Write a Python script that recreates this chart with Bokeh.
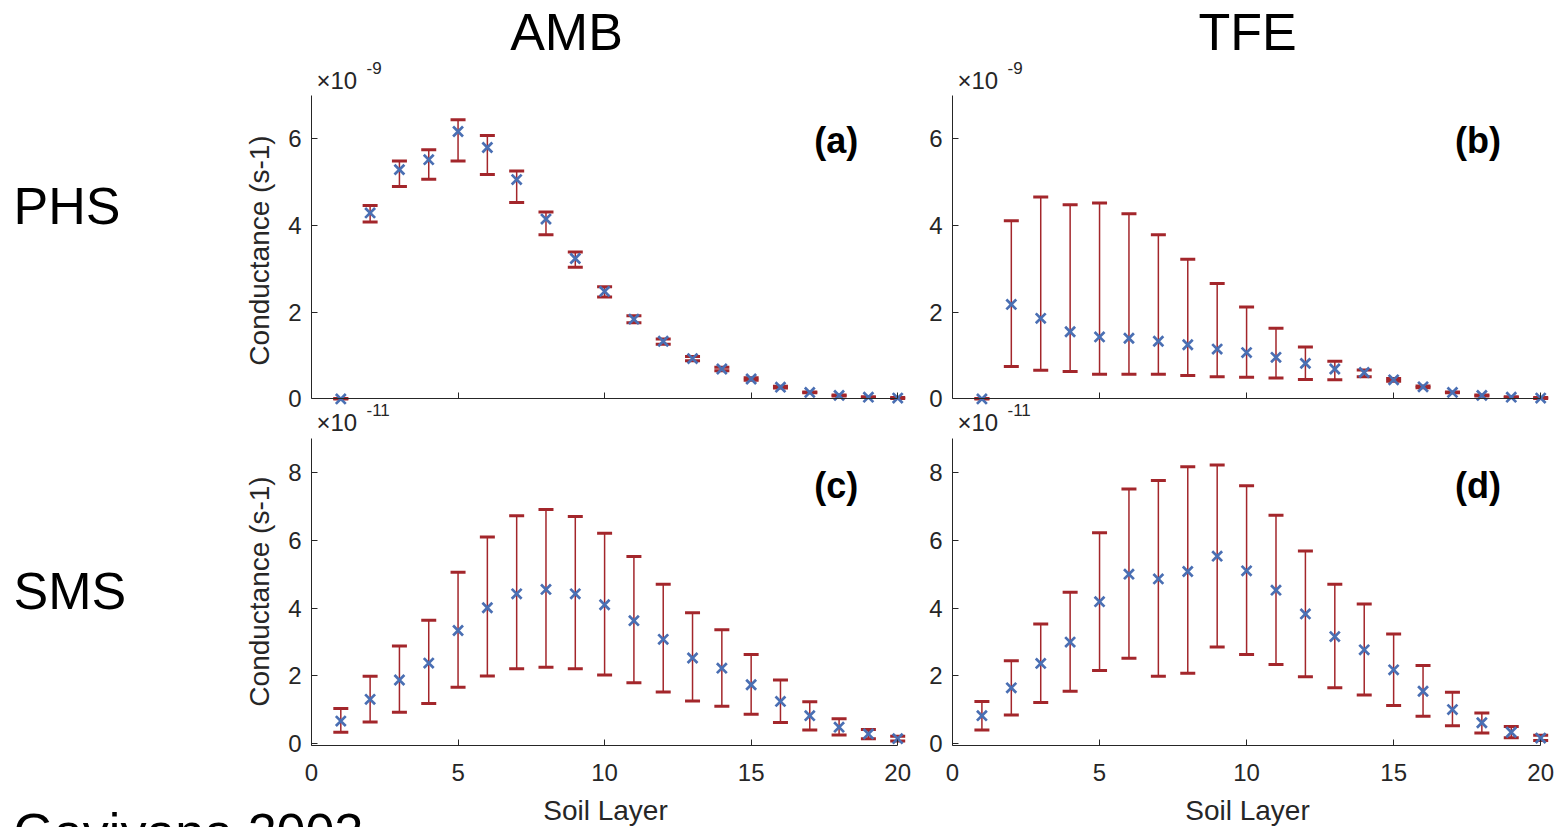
import math
from bokeh.plotting import figure
from bokeh.models import ColumnDataSource, Whisker, TeeHead, Label, Range1d, FixedTicker
from bokeh.layouts import row, column
from bokeh.embed import file_html
from bokeh.resources import INLINE

# ---------------- data (values in axis units: x1e-9 for PHS, x1e-11 for SMS) -------------
layers = list(range(1, 21))
x_ticks = [0, 5, 10, 15, 20]
y_ticks_phs = [0, 2, 4, 6]
y_ticks_sms = [0, 2, 4, 6, 8]

amb_phs_mean = [0.00, 4.29, 5.29, 5.52, 6.17, 5.80, 5.06, 4.15, 3.24, 2.48,
                1.84, 1.33, 0.93, 0.69, 0.46, 0.27, 0.15, 0.08, 0.04, 0.02]
amb_phs_upper = [0.01, 4.46, 5.49, 5.75, 6.44, 6.08, 5.26, 4.31, 3.39, 2.59,
                 1.92, 1.38, 0.98, 0.73, 0.49, 0.29, 0.16, 0.09, 0.05, 0.03]
amb_phs_lower = [0.00, 4.08, 4.90, 5.07, 5.49, 5.18, 4.53, 3.79, 3.04, 2.35,
                 1.76, 1.26, 0.88, 0.65, 0.43, 0.25, 0.14, 0.07, 0.03, 0.01]

tfe_phs_mean = [0.00, 2.18, 1.86, 1.55, 1.43, 1.40, 1.33, 1.25, 1.15, 1.07,
                0.96, 0.82, 0.69, 0.61, 0.44, 0.28, 0.15, 0.08, 0.04, 0.02]
tfe_phs_upper = [0.01, 4.11, 4.66, 4.48, 4.52, 4.27, 3.79, 3.22, 2.66, 2.12,
                 1.63, 1.20, 0.87, 0.67, 0.47, 0.30, 0.16, 0.09, 0.05, 0.03]
tfe_phs_lower = [0.00, 0.75, 0.66, 0.63, 0.57, 0.57, 0.57, 0.54, 0.51, 0.50,
                 0.48, 0.45, 0.44, 0.51, 0.41, 0.26, 0.14, 0.07, 0.03, 0.01]

amb_sms_mean = [0.67, 1.31, 1.88, 2.38, 3.34, 4.01, 4.42, 4.55, 4.42, 4.10,
                3.63, 3.08, 2.53, 2.23, 1.74, 1.25, 0.83, 0.49, 0.29, 0.15]
amb_sms_upper = [1.04, 1.99, 2.88, 3.64, 5.06, 6.10, 6.72, 6.91, 6.70, 6.21,
                 5.52, 4.70, 3.86, 3.36, 2.63, 1.88, 1.24, 0.74, 0.42, 0.22]
amb_sms_lower = [0.34, 0.64, 0.93, 1.19, 1.67, 2.00, 2.21, 2.26, 2.21, 2.03,
                 1.80, 1.53, 1.26, 1.11, 0.87, 0.63, 0.41, 0.26, 0.15, 0.08]

tfe_sms_mean = [0.83, 1.65, 2.37, 3.00, 4.19, 5.00, 4.86, 5.08, 5.53, 5.10,
                4.53, 3.83, 3.16, 2.77, 2.18, 1.55, 1.01, 0.62, 0.34, 0.17]
tfe_sms_upper = [1.25, 2.45, 3.53, 4.47, 6.22, 7.51, 7.76, 8.17, 8.22, 7.61,
                 6.74, 5.68, 4.70, 4.12, 3.24, 2.31, 1.52, 0.91, 0.51, 0.25]
tfe_sms_lower = [0.41, 0.85, 1.22, 1.55, 2.16, 2.52, 1.99, 2.08, 2.85, 2.63,
                 2.34, 1.98, 1.65, 1.44, 1.13, 0.81, 0.53, 0.32, 0.18, 0.10]

col_titles = ["AMB", "TFE"]
row_titles = ["PHS", "SMS"]
panel_letters = ["(a)", "(b)", "(c)", "(d)"]
exponents = ["-9", "-11"]
x_label = "Soil Layer"
y_label = "Conductance (s-1)"
source_note = "Gaviyana 2003"

# ---------------- style -------------
FONT = "Liberation Sans"
AX = "#262626"
BLUE = "#4a6fb3"
RED = "#a3262b"


def text_fig(width, height, x0, y0):
    """Blank figure whose data coordinates are page pixels (y downwards)."""
    p = figure(width=width, height=height, x_range=Range1d(x0, x0 + width),
               y_range=Range1d(y0 + height, y0), output_backend="svg",
               toolbar_location=None, x_axis_location=None, y_axis_location=None,
               min_border=0, min_border_left=0, min_border_right=0,
               min_border_top=0, min_border_bottom=0)
    p.outline_line_color = None
    p.grid.visible = False
    return p


def put(p, text, x, y, size, align="left", color="black", units="data", angle=0):
    p.add_layout(Label(x=x, y=y, x_units=units, y_units=units, text=text, text_font=FONT,
                       text_font_size=f"{size}px", text_align=align, angle=angle,
                       text_baseline="middle", text_color=color))


def exponent(p, x, y, exp, units="data", sign=1):
    # y = vertical centre of the "x10" part; sign=-1 for y axes pointing up
    put(p, "\u00d710", x, y, 24, color=AX, units=units)
    put(p, exp, x + 50, y - sign * 13, 17, color=AX, units=units)


def make_panel(mean, upper, lower, ylo, ymax, yticks, letter, letter_y, width, height,
               bl, br, bt, bb, bottom_row):
    p = figure(width=width, height=height, x_range=Range1d(0, 20.3),
               y_range=Range1d(ylo, ymax), output_backend="svg", toolbar_location=None,
               min_border_left=bl, min_border_right=br, min_border_top=bt,
               min_border_bottom=bb)
    p.outline_line_color = None
    p.grid.visible = False

    src = ColumnDataSource(dict(x=layers, y=mean, upper=upper, lower=lower))
    p.scatter("x", "y", source=src, marker="x", size=14, line_color=BLUE, line_width=2.7)
    wh = Whisker(base="x", upper="upper", lower="lower", source=src,
                 line_color=RED, line_width=1.5,
                 upper_head=TeeHead(size=15, line_color=RED, line_width=3),
                 lower_head=TeeHead(size=15, line_color=RED, line_width=3))
    p.add_layout(wh)

    xa = p.xaxis[0]
    ya = p.yaxis[0]
    xa.bounds = (0, 20)
    xa.ticker = FixedTicker(ticks=x_ticks)
    ya.ticker = FixedTicker(ticks=yticks)
    for ax in (xa, ya):
        ax.axis_line_color = AX
        ax.axis_line_width = 1
        ax.major_tick_line_color = AX
        ax.major_tick_in = 6
        ax.major_tick_out = 0
        ax.minor_tick_line_color = None
        ax.major_label_text_font = FONT
        ax.major_label_text_font_size = "24px"
        ax.major_label_text_color = AX
    ya.major_label_standoff = 10
    if bottom_row:
        xa.major_label_standoff = 18
    else:
        # x axis drawn through y = 0, tick marks only (as in the reference)
        xa.fixed_location = 0
        ya.bounds = (0, ymax)
        xa.major_label_text_font_size = "1px"
        xa.major_label_text_color = None
        xa.major_label_standoff = 0

    p.add_layout(Label(x=18.65, y=letter_y, text=letter, text_font=FONT,
                       text_font_size="36px", text_font_style="bold",
                       text_align="right", text_baseline="middle", text_color="black"))
    return p


# ---------------- geometry (page pixels) -------------
W, H = 1561, 827
LEFT_TXT = 280
HEADER_H, FOOTER_H = 95, 35
TOP_H, BOT_H = 343, 354
LW, RW = 645, 636

# top panels: frame from page y 95 to 437 (y = 7 at top, y = 0 at page y ~398)
pa = make_panel(amb_phs_mean, amb_phs_upper, amb_phs_lower, -0.89, 7, y_ticks_phs,
                panel_letters[0], 5.96, LW, TOP_H, 31, 19, 0, 1, False)
pb = make_panel(tfe_phs_mean, tfe_phs_upper, tfe_phs_lower, -0.89, 7, y_ticks_phs,
                panel_letters[1], 5.96, RW, TOP_H, 27, 12, 0, 1, False)
# bottom panels: frame from page y 438 (y = 9) to ~745
pc = make_panel(amb_sms_mean, amb_sms_upper, amb_sms_lower, -0.05, 9, y_ticks_sms,
                panel_letters[2], 7.61, LW, BOT_H, 31, 19, 0, 47, True)
pd = make_panel(tfe_sms_mean, tfe_sms_upper, tfe_sms_lower, -0.05, 9, y_ticks_sms,
                panel_letters[3], 7.61, RW, BOT_H, 27, 12, 0, 47, True)

# exponent of the lower panels sits just above them, inside the upper panels' frames
# (screen units: x from frame left, y up from frame bottom at page y 437)
exponent(pa, 5, 15, exponents[1], units="screen", sign=-1)
exponent(pb, 5, 15, exponents[1], units="screen", sign=-1)

header = text_fig(W, HEADER_H, 0, 0)
put(header, col_titles[0], 566, 31, 52, align="center")
put(header, col_titles[1], 1247, 31, 52, align="center")
exponent(header, 316, 80, exponents[0])
exponent(header, 957, 80, exponents[0])

left_txt = text_fig(LEFT_TXT, TOP_H + BOT_H, 0, HEADER_H)
put(left_txt, row_titles[0], 13, 205, 52)
put(left_txt, row_titles[1], 13, 590, 52)
put(left_txt, y_label, 259, 250, 28, align="center", color=AX, angle=math.pi / 2)
put(left_txt, y_label, 259, 591, 28, align="center", color=AX, angle=math.pi / 2)

footer = text_fig(W, FOOTER_H, 0, H - FOOTER_H)
put(footer, x_label, 605, 810, 28, align="center", color=AX)
put(footer, x_label, 1247, 810, 28, align="center", color=AX)
put(footer, source_note, 13, 831, 52)

layout = column(header,
                row(left_txt, column(row(pa, pb), row(pc, pd))),
                footer)
open("out.html", "w").write(file_html(layout, INLINE))
